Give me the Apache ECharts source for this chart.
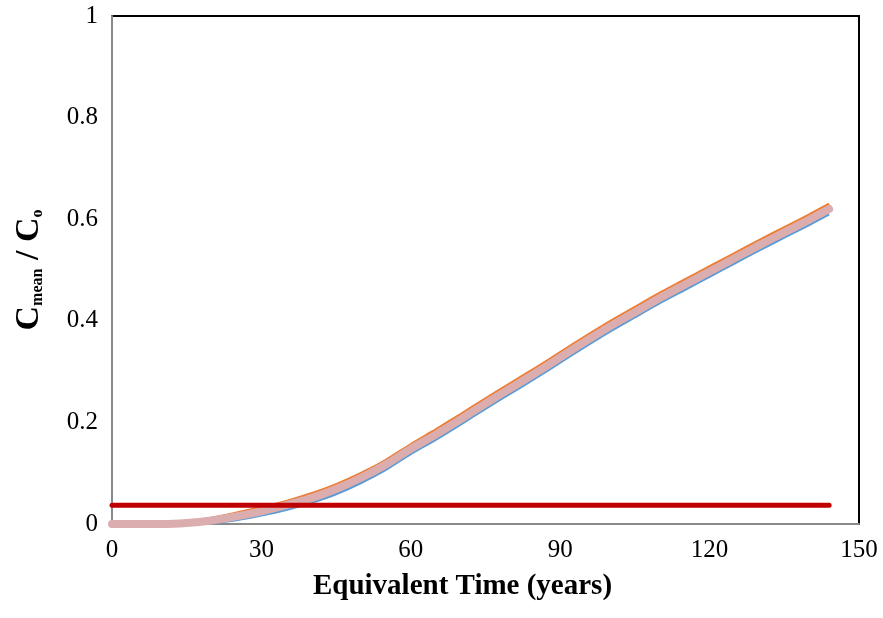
<!DOCTYPE html>
<html>
<head>
<meta charset="utf-8">
<script src="https://cdn.jsdelivr.net/npm/echarts@6/dist/echarts.min.js"></script>
<style>
html,body{margin:0;padding:0;background:#fff;}
#chart{width:883px;height:618px;}
</style>
</head>
<body>
<div id="chart"></div>
<script>
// Equivalent time (years)
const years = [0,5,10,15,20,25,30,35,40,45,50,55,60,65,70,75,80,85,90,95,100,105,110,115,120,125,130,135,140,144];
// Mean concentration ratio, three closely overlapping runs
const runA = [0,0,0,0.000,0.002,0.008,0.017,0.028,0.042,0.059,0.081,0.107,0.138,0.166,0.196,0.227,0.257,0.287,0.318,0.349,0.379,0.407,0.435,0.461,0.487,0.513,0.539,0.564,0.589,0.610];
const runB = [0,0,0,0.005,0.012,0.022,0.033,0.045,0.060,0.078,0.100,0.126,0.157,0.186,0.216,0.247,0.277,0.307,0.338,0.369,0.399,0.427,0.455,0.481,0.507,0.533,0.559,0.584,0.609,0.630];
const runC = [0,0,0,0.002,0.007,0.015,0.025,0.037,0.051,0.069,0.091,0.117,0.148,0.176,0.206,0.237,0.267,0.297,0.328,0.359,0.389,0.417,0.445,0.471,0.497,0.523,0.549,0.574,0.599,0.620];
// Threshold level
const limitX = [0, 144];
const limitY = [0.037, 0.037];

const pairs = (xs, ys) => xs.map((x, i) => [x, ys[i]]);
const serif = '"Liberation Serif","Times New Roman",serif';

const chart = echarts.init(document.getElementById('chart'), null, {renderer: 'canvas'});
chart.setOption({
  animation: false,
  backgroundColor: '#fff',
  grid: {left: 112, top: 16, right: 24, bottom: 94, show: true, borderColor: '#000', borderWidth: 2, backgroundColor: 'transparent'},
  xAxis: {
    type: 'value', min: 0, max: 150, interval: 30,
    name: 'Equivalent Time (years)', nameLocation: 'middle', nameGap: 48,
    nameTextStyle: {fontFamily: serif, fontSize: 29, fontWeight: 'bold', color: '#000', padding: [0, 46, 0, 0]},
    axisLine: {show: true, lineStyle: {color: '#898989', width: 2}},
    axisTick: {show: false},
    splitLine: {show: false},
    axisLabel: {fontFamily: serif, fontSize: 25, color: '#000', margin: 14}
  },
  yAxis: {
    type: 'value', min: 0, max: 1, interval: 0.2,
    name: '{b|C}{s|mean}{b| / C}{s|o}', nameLocation: 'middle', nameGap: 66, nameRotate: 90,
    nameTextStyle: {
      fontFamily: serif, fontSize: 34, fontWeight: 'bold', color: '#000',
      rich: {
        b: {fontFamily: serif, fontSize: 34, fontWeight: 'bold', color: '#000'},
        s: {fontFamily: serif, fontSize: 16, fontWeight: 'bold', color: '#000', verticalAlign: 'bottom', padding: [12, 0, 0, 0]}
      }
    },
    axisLine: {show: true, lineStyle: {color: '#898989', width: 2}},
    axisTick: {show: false},
    splitLine: {show: false},
    axisLabel: {fontFamily: serif, fontSize: 25, color: '#000', margin: 14}
  },
  series: [
    {type: 'line', data: pairs(years, runA), showSymbol: false, smooth: 0.3, lineStyle: {color: '#5B9BD5', width: 2.5}, z: 2},
    {type: 'line', data: pairs(years, runB), showSymbol: false, smooth: 0.3, lineStyle: {color: '#ED7D31', width: 2.5}, z: 3},
    {type: 'line', data: pairs(years, runC), showSymbol: false, smooth: 0.3, lineStyle: {color: '#DBADAF', width: 8, cap: 'round', join: 'round'}, z: 4},
    {type: 'line', data: pairs(limitX, limitY), showSymbol: false, lineStyle: {color: '#C00000', width: 5, cap: 'round'}, z: 5}
  ]
});
</script>
</body>
</html>
